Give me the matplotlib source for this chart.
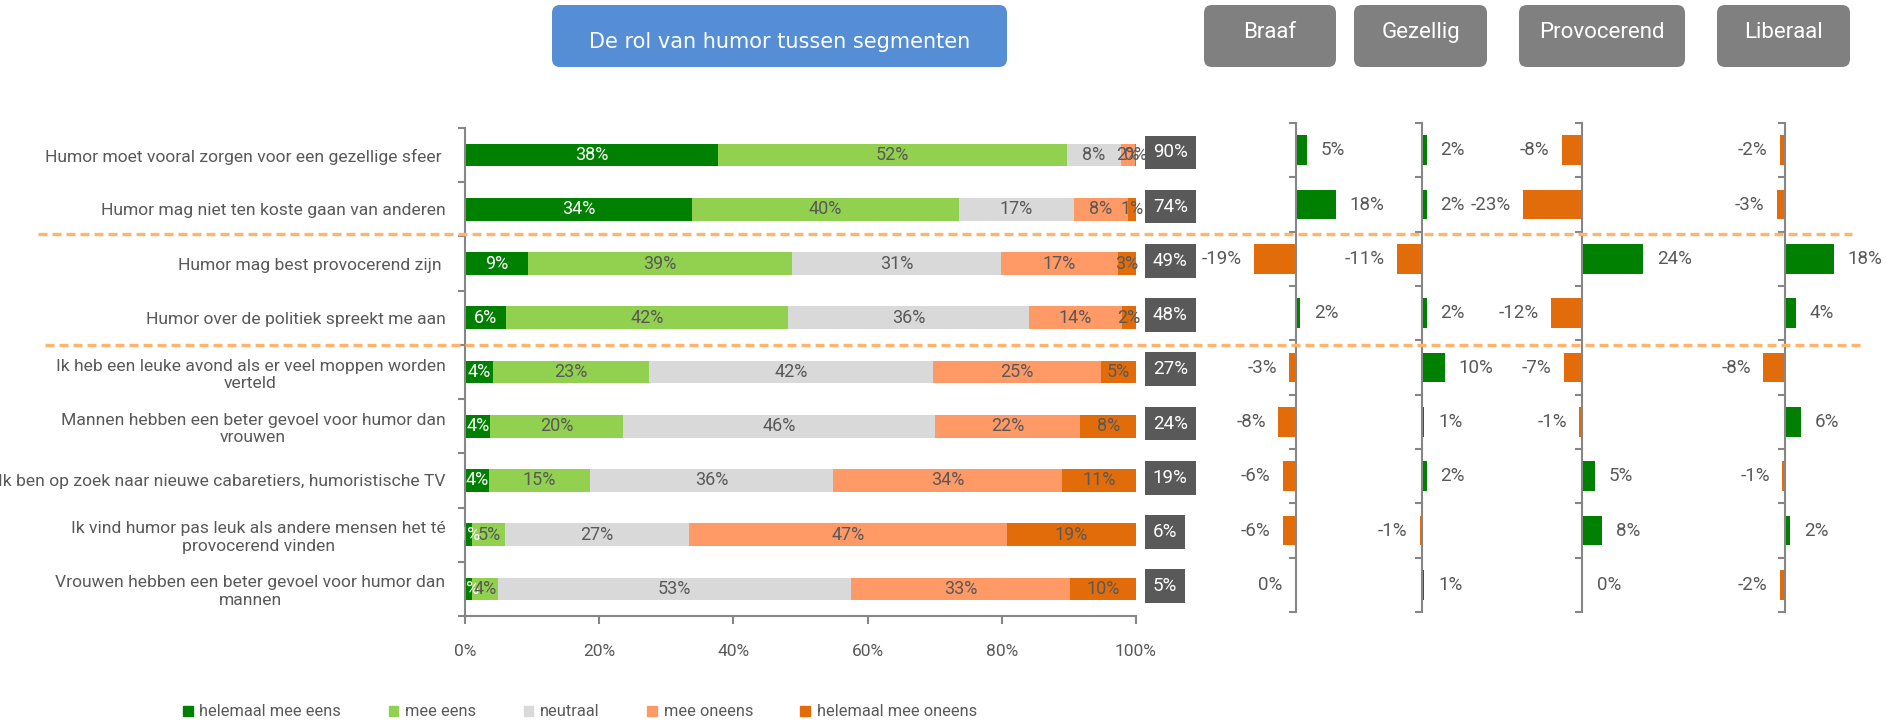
import numpy as np
import matplotlib
matplotlib.use("Agg")
import matplotlib.pyplot as plt
from matplotlib.patches import FancyBboxPatch, Patch
from matplotlib.lines import Line2D
from matplotlib.transforms import blended_transform_factory, IdentityTransform

plt.rcParams['font.family'] = ['Roboto', 'DejaVu Sans']

# === Data ===
statements = [
    "Humor moet vooral zorgen voor een gezellige sfeer ",
    "Humor mag niet ten koste gaan van anderen",
    "Humor mag best provocerend zijn ",
    "Humor over de politiek spreekt me aan",
    "Ik heb een leuke avond als er veel moppen worden\nverteld",
    "Mannen hebben een beter gevoel voor humor dan\nvrouwen",
    "Ik ben op zoek naar nieuwe cabaretiers, humoristische TV",
    "Ik vind humor pas leuk als andere mensen het té\nprovocerend vinden",
    "Vrouwen hebben een beter gevoel voor humor dan\nmannen",
]
answer_names = ["helemaal mee eens", "mee eens", "neutraal", "mee oneens", "helemaal mee oneens"]
helemaal_eens = [37.7, 33.8, 9.4, 6.1, 4.2, 3.8, 3.6, 1.1, 1.0]
mee_eens = [52.0, 39.8, 39.3, 42.1, 23.2, 19.8, 15.0, 4.9, 3.9]
neutraal = [8.1, 17.1, 31.2, 35.8, 42.4, 46.4, 36.3, 27.4, 52.7]
mee_oneens = [2.0, 8.1, 17.4, 13.9, 25.0, 21.7, 34.1, 47.4, 32.6]
helemaal_oneens = [0.2, 1.2, 2.7, 2.1, 5.2, 8.3, 11.0, 19.2, 9.8]
top2 = [90, 74, 49, 48, 27, 24, 19, 6, 5]

segment_names = ["Braaf", "Gezellig", "Provocerend", "Liberaal"]
braaf = [5, 18, -19, 2, -3, -8, -6, -6, -0.3]
gezellig = [2, 2, -11, 2, 10, 1, 2, -1, 1]
provocerend = [-8, -23, 24, -12, -7, -1, 5, 8, 0.3]
liberaal = [-2, -3, 18, 4, -8, 6, -1, 2, -2]

# === Styling ===
W, H = 1895, 722
c_green, c_lgreen, c_grey, c_lorange, c_orange = '#008000', '#92D050', '#D9D9D9', '#FF9966', '#E36C0A'
level_colors = [c_green, c_lgreen, c_grey, c_lorange, c_orange]
text_grey = '#595959'
axis_grey = '#868686'


def frac(x0, y0, x1, y1):
    return [x0 / W, 1 - y1 / H, (x1 - x0) / W, (y1 - y0) / H]


fig = plt.figure(figsize=(W / 100, H / 100), dpi=100)

# === Main stacked bar chart ===
ax = fig.add_axes(frac(465, 128, 1136, 616))
y = np.arange(len(statements))
left = np.zeros(len(statements))
for vals, color in zip([helemaal_eens, mee_eens, neutraal, mee_oneens, helemaal_oneens], level_colors):
    vals = np.array(vals)
    ax.barh(y, vals, left=left, height=0.42, color=color)
    tc = 'white' if color == c_green else text_grey
    for yi, v, l in zip(y, vals, left):
        ax.text(l + v / 2, yi, f"{int(round(v))}%", ha='center', va='center', color=tc, fontsize=13)
    left += vals

for yi, n in zip(y, top2):
    ax.text(102.5, yi - 0.05, f"{n}%", ha='left', va='center', color='white', fontsize=13.5,
            bbox=dict(boxstyle='square,pad=0.42', fc='#595959', ec='none'), clip_on=False)

ax.set_xlim(0, 100)
ax.set_ylim(len(statements) - 0.5, -0.5)
ax.set_xticks(np.arange(0, 101, 20))
ax.set_xticklabels([f"{t}%" for t in range(0, 101, 20)], color=text_grey, fontsize=12.5)
ax.set_yticks(y)
ax.set_yticklabels(statements, multialignment='center', color=text_grey, fontsize=12.6)
ax.set_yticks(np.arange(-0.5, len(statements), 1), minor=True)
ax.tick_params(axis='y', which='major', length=0, pad=14)
ax.tick_params(axis='y', which='minor', length=5, width=1.5, color=axis_grey)
ax.tick_params(axis='x', length=6, width=1.5, color=axis_grey, pad=14)
for s in ['top', 'right']:
    ax.spines[s].set_visible(False)
for s in ['left', 'bottom']:
    ax.spines[s].set_color(axis_grey)
    ax.spines[s].set_linewidth(1.5)

# === Segment difference charts ===
seg_axis_px = [1296, 1422, 1582, 1785]
seg_scale = [2.2, 2.25, 2.55, 2.7]
for vals, P, s in zip([braaf, gezellig, provocerend, liberaal], seg_axis_px, seg_scale):
    sax = fig.add_axes(frac(P - 30 * s, 123, P + 30 * s, 612))
    sax.set_facecolor('none')
    cols = [c_green if v >= 0 else c_orange for v in vals]
    sax.barh(y, vals, height=0.55, color=cols)
    for yi, v in zip(y, vals):
        off = 10 if v >= 0 else -9
        sax.annotate(f"{int(round(v))}%", (v, yi), xytext=(off, 0), textcoords='offset points',
                     ha='left' if v >= 0 else 'right', va='center', color=text_grey, fontsize=13.5)
    sax.set_xlim(-30, 30)
    sax.set_ylim(len(statements) - 0.5, -0.5)
    sax.set_xticks([])
    sax.set_yticks(np.arange(-0.5, len(statements), 1))
    sax.set_yticklabels([])
    sax.tick_params(axis='y', length=5, width=1.5, color=axis_grey)
    sax.spines['left'].set_position(('data', 0))
    sax.spines['left'].set_color(axis_grey)
    sax.spines['left'].set_linewidth(1.5)
    for sp in ['top', 'right', 'bottom']:
        sax.spines[sp].set_visible(False)

# === Dashed separators ===
tr = blended_transform_factory(fig.transFigure, ax.transData)
for yy, x0, x1 in [(1.45, 38, 1852), (3.5, 45, 1860)]:
    fig.add_artist(Line2D([x0 / W, x1 / W], [yy, yy], transform=tr, color='#FFB469',
                          lw=2.4, ls=(0, (2.7, 1.5))))

# === Header boxes ===
headers = [("De rol van humor tussen segmenten", 552, 1007, 67, '#558ED5', 48, 15, 'DejaVu Sans')]
headers += [(nm, x0, x1, 67, '#808080', 38, 16, 'Roboto') for nm, x0, x1 in
            zip(segment_names, [1204, 1354, 1519, 1717], [1336, 1487, 1685, 1850])]
for txt, x0, x1, yb, fc, base, fs, fam in headers:
    fig.add_artist(FancyBboxPatch((x0, H - yb), x1 - x0, yb - 5,
                                  boxstyle='round,pad=0,rounding_size=8',
                                  transform=IdentityTransform(), fc=fc, ec='none'))
    fig.text((x0 + x1) / 2 / W, 1 - base / H, txt, ha='center', va='baseline',
             color='white', fontsize=fs, family=[fam, 'DejaVu Sans'])

# === Legend ===
handles = [Patch(color=c, label=n) for c, n in zip(level_colors, answer_names)]
fig.legend(handles=handles, loc='center left', bbox_to_anchor=(183 / W, 1 - 712 / H), ncol=5,
           frameon=False, handlelength=0.6, handleheight=0.6, handletextpad=0.4,
           columnspacing=2.9, borderpad=0, borderaxespad=0, fontsize=11.8, labelcolor=text_grey)

fig.savefig("out.png", dpi=100)
